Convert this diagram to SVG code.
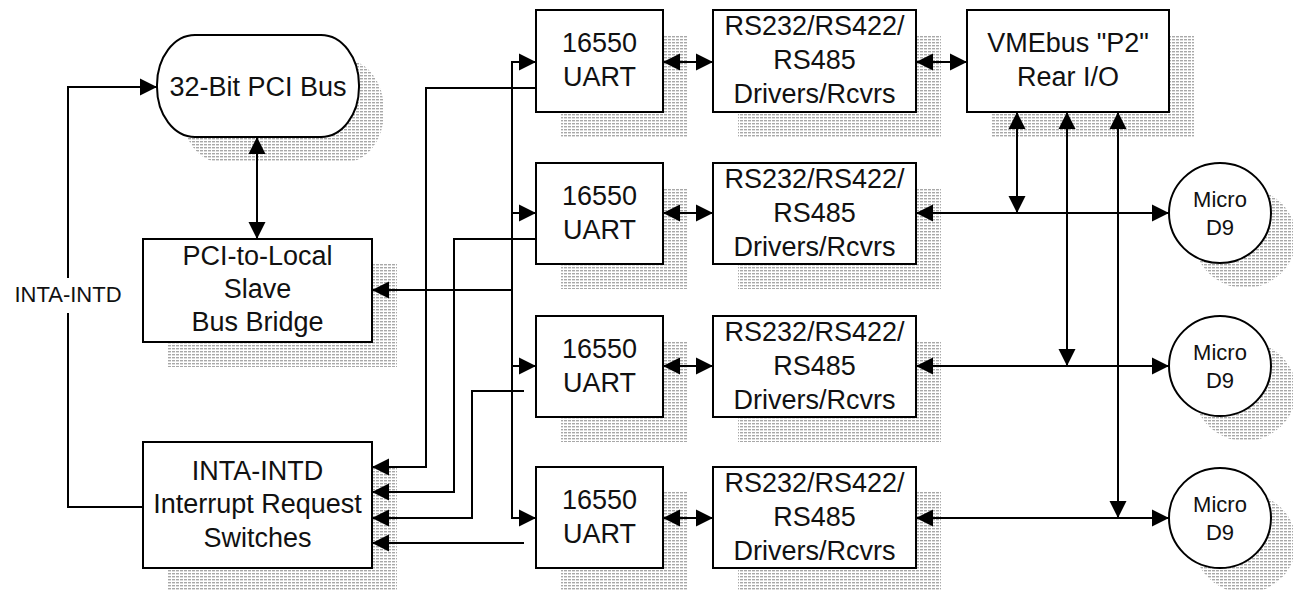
<svg xmlns="http://www.w3.org/2000/svg" width="1293" height="590" viewBox="0 0 1293 590">
<style>
.box{fill:#fff;stroke:#000;stroke-width:2}
.sh{fill:url(#hatch);stroke:none}
.t{font-family:"Liberation Sans",Arial,sans-serif;font-size:27px;fill:#111;text-anchor:middle}
.s{font-family:"Liberation Sans",Arial,sans-serif;font-size:22px;fill:#111;text-anchor:middle}
.w{fill:none;stroke:#000;stroke-width:2}
.a{marker-end:url(#ah)}
.d{marker-start:url(#ah);marker-end:url(#ah)}
</style>
<defs>
<pattern id="hatch" width="4" height="3" patternUnits="userSpaceOnUse">
<rect width="4" height="3" fill="#fff"/>
<rect width="3" height="1.4" fill="#a8a8a8"/>
</pattern>
<marker id="ah" markerUnits="userSpaceOnUse" markerWidth="18" markerHeight="18" refX="17" refY="9" orient="auto-start-reverse" viewBox="0 0 18 18">
<path d="M0,0.5 L17,9 L0,17.5 z" fill="#000"/>
</marker>
</defs>
<rect width="1293" height="590" fill="#fff"/>

<g id="shadows">
<rect class="sh" x="182" y="60" width="202" height="102" rx="38" ry="50"/>
<rect class="sh" x="168" y="264" width="229" height="103"/>
<rect class="sh" x="168" y="467" width="229" height="126"/>
<rect class="sh" x="561" y="35" width="127" height="102"/>
<rect class="sh" x="561" y="188" width="127" height="101"/>
<rect class="sh" x="561" y="341" width="127" height="101"/>
<rect class="sh" x="561" y="492" width="127" height="101"/>
<rect class="sh" x="738" y="35" width="203" height="102"/>
<rect class="sh" x="738" y="188" width="203" height="101"/>
<rect class="sh" x="738" y="341" width="203" height="101"/>
<rect class="sh" x="738" y="492" width="203" height="101"/>
<rect class="sh" x="992" y="35" width="202" height="102"/>
<ellipse class="sh" cx="1245" cy="238" rx="51" ry="50"/>
<ellipse class="sh" cx="1245" cy="391" rx="51" ry="50"/>
<ellipse class="sh" cx="1245" cy="543" rx="51" ry="50"/>
</g>

<g id="connectors">
<path class="w" d="M143,507 H68 V313"/>
<path class="w a" d="M68,278 V87 H157"/>
<path class="w d" d="M257,137 V239"/>
<path class="w" d="M512,62 V518"/>
<path class="w a" d="M511,62 H536"/>
<path class="w a" d="M511,213 H536"/>
<path class="w a" d="M511,366 H536"/>
<path class="w a" d="M511,518 H536"/>
<path class="w a" d="M512,290 H372"/>
<path class="w a" d="M536,88 H426 V467 H372"/>
<path class="w a" d="M536,239 H454 V492 H372"/>
<path class="w a" d="M524,391 H472 V518 H372"/>
<path class="w a" d="M524,543 H372"/>
<path class="w d" d="M663,62 H713"/>
<path class="w d" d="M663,213 H713"/>
<path class="w d" d="M663,366 H713"/>
<path class="w d" d="M663,518 H713"/>
<path class="w d" d="M916,62 H967"/>
<path class="w d" d="M916,213 H1169"/>
<path class="w d" d="M916,366 H1169"/>
<path class="w d" d="M916,518 H1169"/>
<path class="w d" d="M1017,112 V213"/>
<path class="w d" d="M1067,112 V366"/>
<path class="w d" d="M1118,112 V518"/>
</g>

<g id="pci-bus">
<rect class="box" x="157" y="35" width="202" height="102" rx="38" ry="50"/>
<text class="t" x="258" y="96">32-Bit PCI Bus</text>
</g>
<g id="bridge">
<rect class="box" x="143" y="239" width="229" height="103"/>
<text class="t" x="257.5" y="265">PCI-to-Local</text>
<text class="t" x="257.5" y="298">Slave</text>
<text class="t" x="257.5" y="331">Bus Bridge</text>
</g>
<g id="irq-switches">
<rect class="box" x="143" y="442" width="229" height="126"/>
<text class="t" x="257.5" y="480">INTA-INTD</text>
<text class="t" x="257.5" y="513">Interrupt Request</text>
<text class="t" x="257.5" y="547">Switches</text>
</g>
<g id="inta-label">
<text class="s" x="68" y="302">INTA-INTD</text>
</g>

<g id="uart1"><rect class="box" x="536" y="10" width="127" height="102"/><text class="t" x="599.5" y="52">16550</text><text class="t" x="599.5" y="86">UART</text></g>
<g id="uart2"><rect class="box" x="536" y="163" width="127" height="101"/><text class="t" x="599.5" y="205">16550</text><text class="t" x="599.5" y="239">UART</text></g>
<g id="uart3"><rect class="box" x="536" y="316" width="127" height="101"/><text class="t" x="599.5" y="358">16550</text><text class="t" x="599.5" y="392">UART</text></g>
<g id="uart4"><rect class="box" x="536" y="467" width="127" height="101"/><text class="t" x="599.5" y="509">16550</text><text class="t" x="599.5" y="543">UART</text></g>

<g id="drv1"><rect class="box" x="713" y="10" width="203" height="102"/><text class="t" x="814.5" y="35">RS232/RS422/</text><text class="t" x="814.5" y="69">RS485</text><text class="t" x="814.5" y="103">Drivers/Rcvrs</text></g>
<g id="drv2"><rect class="box" x="713" y="163" width="203" height="101"/><text class="t" x="814.5" y="188">RS232/RS422/</text><text class="t" x="814.5" y="222">RS485</text><text class="t" x="814.5" y="256">Drivers/Rcvrs</text></g>
<g id="drv3"><rect class="box" x="713" y="316" width="203" height="101"/><text class="t" x="814.5" y="341">RS232/RS422/</text><text class="t" x="814.5" y="375">RS485</text><text class="t" x="814.5" y="409">Drivers/Rcvrs</text></g>
<g id="drv4"><rect class="box" x="713" y="467" width="203" height="101"/><text class="t" x="814.5" y="492">RS232/RS422/</text><text class="t" x="814.5" y="526">RS485</text><text class="t" x="814.5" y="560">Drivers/Rcvrs</text></g>

<g id="vme"><rect class="box" x="967" y="10" width="202" height="102"/><text class="t" x="1068" y="52">VMEbus "P2"</text><text class="t" x="1068" y="86">Rear I/O</text></g>

<g id="d9-1"><ellipse class="box" cx="1220" cy="213" rx="51" ry="50"/><text class="s" x="1220" y="207">Micro</text><text class="s" x="1220" y="235">D9</text></g>
<g id="d9-2"><ellipse class="box" cx="1220" cy="366" rx="51" ry="50"/><text class="s" x="1220" y="360">Micro</text><text class="s" x="1220" y="388">D9</text></g>
<g id="d9-3"><ellipse class="box" cx="1220" cy="518" rx="51" ry="50"/><text class="s" x="1220" y="512">Micro</text><text class="s" x="1220" y="540">D9</text></g>
</svg>
